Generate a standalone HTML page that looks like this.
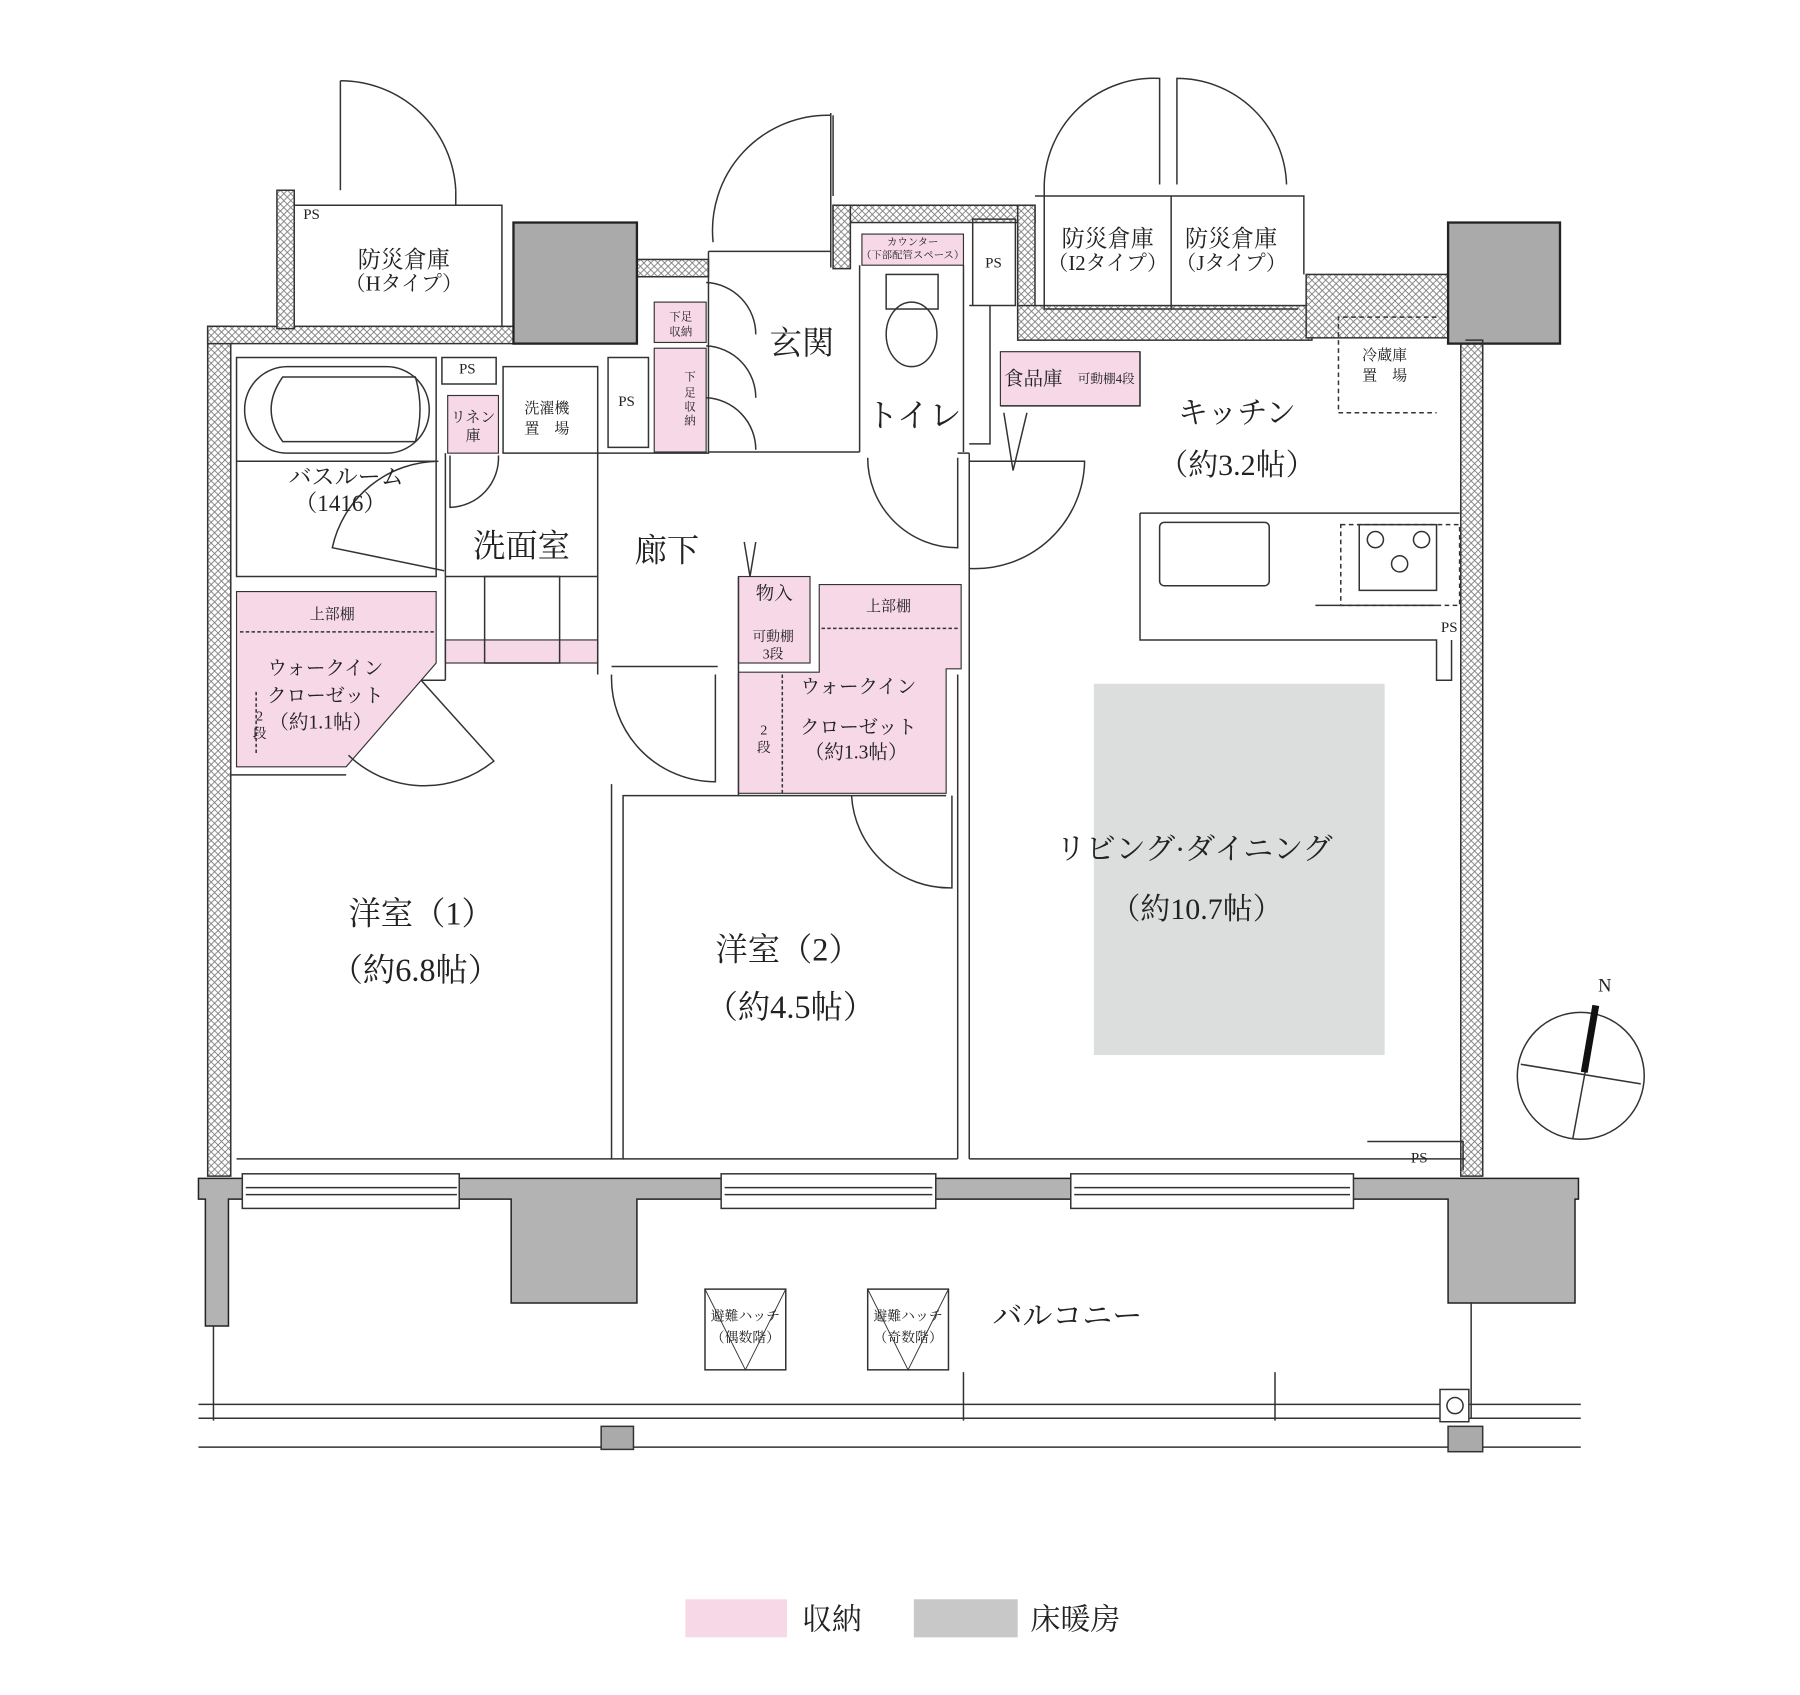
<!DOCTYPE html>
<html><head><meta charset="utf-8"><style>
html,body{margin:0;padding:0;background:#fff}
svg{display:block}
text{font-family:"Liberation Serif","Noto Serif CJK SC","Noto Sans CJK JP",serif;fill:#222}
</style></head><body>
<svg width="1800" height="1695" viewBox="0 0 1560 1470" preserveAspectRatio="none" xmlns="http://www.w3.org/2000/svg">
<defs>
<pattern id="h" width="6" height="6" patternUnits="userSpaceOnUse">
<rect width="6" height="6" fill="#fff"/>
<path d="M0 0L6 6M6 0L0 6" stroke="#777" stroke-width="0.7"/>
</pattern>
</defs>
<g stroke="#333" stroke-width="1.3" fill="none">
<rect x="180" y="283" width="20" height="737" fill="url(#h)"/>
<rect x="180" y="283" width="265" height="15" fill="url(#h)"/>
<rect x="240" y="165" width="15" height="120" fill="url(#h)"/>
<rect x="552" y="225" width="62" height="15" fill="url(#h)"/>
<rect x="722" y="178" width="175" height="15" fill="url(#h)"/>
<rect x="722" y="178" width="15" height="55" fill="url(#h)"/>
<rect x="882" y="178" width="15" height="100" fill="url(#h)"/>
<rect x="882" y="265" width="255" height="30" fill="url(#h)"/>
<rect x="1132" y="238" width="123" height="55" fill="url(#h)"/>
<rect x="1266" y="298" width="19" height="722" fill="url(#h)"/>
<rect x="445" y="193" width="107" height="105" fill="#aaa" stroke="#222" stroke-width="2"/>
<rect x="1255" y="193" width="97" height="105" fill="#aaa" stroke="#222" stroke-width="2"/>
<path d="M172 1022H1368V1040H1365V1130H1255V1040H552V1130H443V1040H198V1150H178V1040H172Z" fill="#b3b3b3" stroke="#222"/>
<rect x="210" y="1018" width="188" height="30" fill="#fff"/>
<rect x="625" y="1018" width="186" height="30" fill="#fff"/>
<rect x="928" y="1018" width="245" height="30" fill="#fff"/>
<path d="M213 1030H396M213 1036H396M628 1030H808M628 1036H808M931 1030H1170M931 1036H1170"/>
<path d="M172 1218H1370M172 1230H1370M172 1255H1370M185 1150V1232M1275 1130V1230M835 1190V1232M1105 1190V1232"/>
<rect x="521" y="1237" width="28" height="20" fill="#aaa"/>
<rect x="1255" y="1237" width="30" height="22" fill="#aaa"/>
<rect x="1248" y="1205" width="25" height="28" fill="#fff"/>
<circle cx="1261" cy="1219" r="7"/>
<rect x="611" y="1118" width="70" height="70" fill="#fff"/>
<path d="M611 1118L646 1188L681 1118" stroke-width="0.8"/>
<rect x="752" y="1118" width="70" height="70" fill="#fff"/>
<path d="M752 1118L787 1188L822 1118" stroke-width="0.8"/>
</g>
<g fill="#f6d8e6" stroke="#333" stroke-width="1">
<path d="M205 513H378V575L300 665H205Z"/>
<rect x="640" y="500" width="62" height="75"/>
<path d="M710 507H833V580H820V688H640V583H710Z"/>
<rect x="567" y="262" width="45" height="35"/>
<rect x="567" y="302" width="45" height="90"/>
<rect x="388" y="343" width="44" height="50"/>
<rect x="867" y="305" width="121" height="47"/>
<rect x="747" y="203" width="88" height="27"/>
<rect x="386" y="555" width="132" height="20"/>
</g>
<rect x="948" y="593" width="252" height="322" fill="#dcdddd"/>
<g stroke="#333" stroke-width="1.3" fill="none">
<path d="M255 178H435V283M295 165V70M395 165V178M435 178V190"/>
<path d="M614 218V392M720 98V232M614 218H720"/>
<path d="M722 170V100"/>
<path d="M897 170H1130V238M1015 170V268M905 160V268H1125"/>
<path d="M1270 295H1285V1020"/>
<path d="M205 310H378V500H205Z"/>
<path d="M205 400H378"/>
<path d="M383 310H430V333H383Z"/>
<path d="M436 318H518V393H436Z"/>
<path d="M527 310H562V388H527Z"/>
<path d="M386 393V590M386 500H518M518 393V585M518 393H614V392H745M830 393H840"/>
<path d="M745 230V392M835 230V392M840 265H858V385H840M843 190H880V265H843Z"/>
<path d="M988 305V352H867"/>
<path d="M1245 275H1160V358H1245" stroke-dasharray="4 3"/>
<path d="M988 445H1265M988 445V555H1245V590H1258V555M1140 525H1245"/>
<rect x="1005" y="453" width="95" height="55" rx="4"/>
<path d="M1162 455H1265V525H1162Z" stroke-dasharray="4 3"/>
<rect x="1178" y="455" width="67" height="57"/>
<circle cx="1192" cy="468" r="7"/><circle cx="1232" cy="468" r="7"/><circle cx="1213" cy="489" r="7"/>
<path d="M420 500H485V575H420Z"/>
<path d="M530 578H622M640 500V690H540V1005H530V680M540 690H820M830 585V1005M840 393V1005"/>
<path d="M200 672H300M386 590L365 590"/>
<path d="M205 1005H530M540 1005H830M840 1005H1270M1185 990H1268V1015"/>
<path d="M295 70A100 100 0 0 1 395 165"/>
<path d="M720 100A100 100 0 0 0 618 210"/>
<path d="M905 160A95 95 0 0 1 1005 68V160M1020 160V68A95 95 0 0 1 1115 160"/>
<path d="M612 245A45 45 0 0 1 655 290M612 300A45 45 0 0 1 655 345M612 345A45 45 0 0 1 655 390"/>
<path d="M390 395V440A43 43 0 0 0 432 395"/>
<path d="M385 495L288 475A95 95 0 0 1 380 400"/>
<path d="M752 397A78 78 0 0 0 830 475V397"/>
<path d="M840 400H940A95 95 0 0 1 840 493"/>
<path d="M530 585A90 90 0 0 0 620 678V585"/>
<path d="M738 690A85 85 0 0 0 825 770V690"/>
<path d="M365 590L428 660A95 95 0 0 1 302 655"/>
<path d="M870 358L878 408L890 358M645 470L650 500L655 470"/>
<rect x="212" y="318" width="160" height="75" rx="37"/>
<path d="M245 327H360Q368 355 360 383H245Q225 355 245 327Z"/>
<rect x="768" y="238" width="45" height="30"/>
<ellipse cx="790" cy="290" rx="22" ry="28"/>
<circle cx="1370" cy="933" r="55"/>
<path d="M1318 923L1422 940M1383 880L1363 988"/>
<path d="M1383 872L1373 930" stroke="#111" stroke-width="6"/>
<path d="M208 548H376M712 545H830M678 585V688M222 600V655" stroke-dasharray="3 2"/>
</g>
<g font-size="20">
<text x="350" y="232" text-anchor="middle">防災倉庫</text><text x="350" y="252" text-anchor="middle" font-size="18">（Hタイプ）</text>
<text x="960" y="214" text-anchor="middle">防災倉庫</text><text x="960" y="234" text-anchor="middle" font-size="18">（I2タイプ）</text>
<text x="1067" y="214" text-anchor="middle">防災倉庫</text><text x="1067" y="234" text-anchor="middle" font-size="18">（Jタイプ）</text>
<text x="695" y="307" text-anchor="middle" font-size="28">玄関</text>
<text x="792" y="370" text-anchor="middle" font-size="28">トイレ</text>
<text x="1072" y="367" text-anchor="middle" font-size="26">キッチン</text>
<text x="1072" y="412" text-anchor="middle" font-size="26">（約3.2帖）</text>
<text x="300" y="420" text-anchor="middle">バスルーム</text><text x="295" y="443" text-anchor="middle">（1416）</text>
<text x="452" y="483" text-anchor="middle" font-size="28">洗面室</text>
<text x="578" y="487" text-anchor="middle" font-size="28">廊下</text>
<text x="365" y="802" text-anchor="middle" font-size="28">洋室（1）</text>
<text x="360" y="851" text-anchor="middle" font-size="28">（約6.8帖）</text>
<text x="683" y="833" text-anchor="middle" font-size="28">洋室（2）</text>
<text x="685" y="883" text-anchor="middle" font-size="28">（約4.5帖）</text>
<text x="1035" y="745" text-anchor="middle" font-size="26">リビング·ダイニング</text>
<text x="1037" y="797" text-anchor="middle" font-size="26">（約10.7帖）</text>
<text x="925" y="1150" text-anchor="middle" font-size="26">バルコニー</text>
<text x="870" y="334" font-size="17">食品庫</text><text x="934" y="332" font-size="11">可動棚4段</text>
<text x="288" y="537" text-anchor="middle" font-size="13">上部棚</text>
<text x="770" y="530" text-anchor="middle" font-size="13">上部棚</text>
<text x="282" y="585" text-anchor="middle" font-size="17">ウォークイン</text>
<text x="282" y="609" text-anchor="middle" font-size="17">クローゼット</text>
<text x="278" y="632" text-anchor="middle" font-size="17">（約1.1帖）</text>
<text x="744" y="601" text-anchor="middle" font-size="17">ウォークイン</text>
<text x="744" y="636" text-anchor="middle" font-size="17">クローゼット</text>
<text x="742" y="658" text-anchor="middle" font-size="17">（約1.3帖）</text>
<text x="671" y="520" text-anchor="middle" font-size="16">物入</text>
<text x="670" y="556" text-anchor="middle" font-size="12">可動棚</text><text x="670" y="571" text-anchor="middle" font-size="12">3段</text>
<text x="225" y="625" text-anchor="middle" font-size="12">2</text><text x="225" y="640" text-anchor="middle" font-size="12">段</text>
<text x="662" y="637" text-anchor="middle" font-size="12">2</text><text x="662" y="652" text-anchor="middle" font-size="12">段</text>
<text x="410" y="366" text-anchor="middle" font-size="13">リネン</text><text x="410" y="382" text-anchor="middle" font-size="13">庫</text>
<text x="474" y="358" text-anchor="middle" font-size="13">洗濯機</text><text x="474" y="376" text-anchor="middle" font-size="13">置　場</text>
<text x="1200" y="312" text-anchor="middle" font-size="13">冷蔵庫</text><text x="1200" y="330" text-anchor="middle" font-size="13">置　場</text>
<text x="590" y="278" text-anchor="middle" font-size="10">下足</text><text x="590" y="291" text-anchor="middle" font-size="10">収納</text>
<text x="598" y="330" text-anchor="middle" font-size="10">下</text><text x="598" y="344" text-anchor="middle" font-size="10">足</text><text x="598" y="356" text-anchor="middle" font-size="10">収</text><text x="598" y="368" text-anchor="middle" font-size="10">納</text>
<text x="791" y="213" text-anchor="middle" font-size="9">カウンター</text><text x="791" y="224" text-anchor="middle" font-size="9">（下部配管スペース）</text>
<g font-size="13"><text x="270" y="190" text-anchor="middle">PS</text><text x="405" y="324" text-anchor="middle">PS</text><text x="543" y="352" text-anchor="middle">PS</text><text x="861" y="232" text-anchor="middle">PS</text><text x="1256" y="548" text-anchor="middle">PS</text><text x="1230" y="1008" text-anchor="middle">PS</text></g>
<text x="646" y="1145" text-anchor="middle" font-size="12">避難ハッチ</text><text x="646" y="1164" text-anchor="middle" font-size="12">（偶数階）</text>
<text x="787" y="1145" text-anchor="middle" font-size="12">避難ハッチ</text><text x="787" y="1164" text-anchor="middle" font-size="12">（奇数階）</text>
<text x="1385" y="860" font-size="16" fill="#444">N</text>
</g>
<rect x="594" y="1387" width="88" height="33" fill="#f6d8e6"/>
<text x="695" y="1413" font-size="26">収納</text>
<rect x="792" y="1387" width="90" height="33" fill="#c8c8c8"/>
<text x="893" y="1413" font-size="26">床暖房</text>
</svg>
</body></html>
